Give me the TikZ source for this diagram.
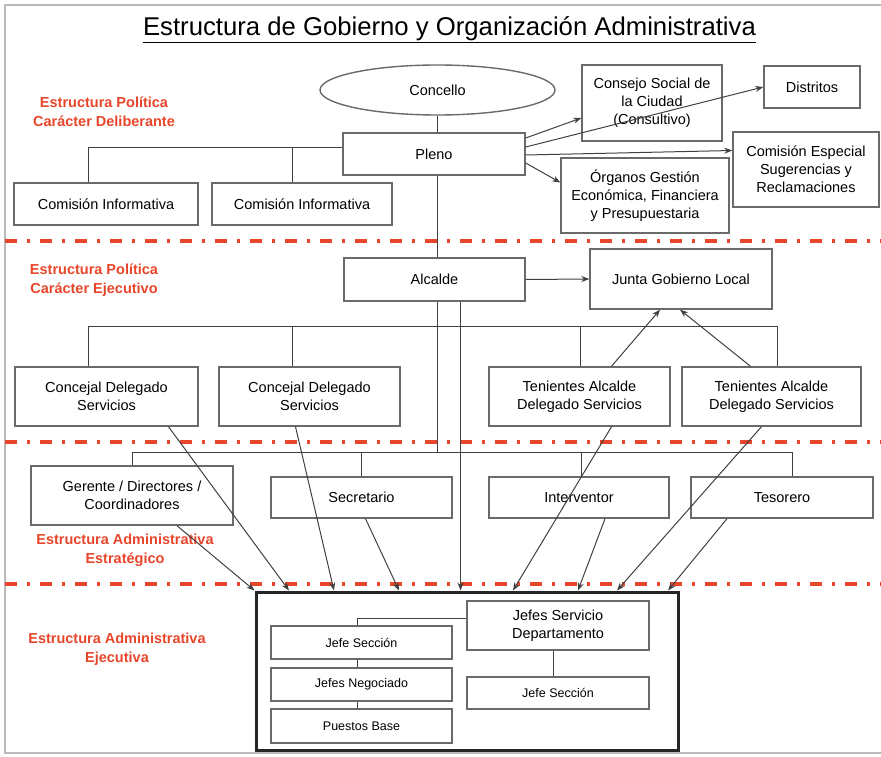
\documentclass[tikz,border=0pt]{standalone}
\usepackage{fontspec}
\setmainfont{Liberation Sans}
\usetikzlibrary{arrows.meta,shapes.geometric}
\definecolor{rojo}{HTML}{E8462A}
\definecolor{gris}{HTML}{6A6A6A}
\begin{document}
\begin{tikzpicture}[x=1pt,y=-1pt,
  caja/.style={draw=gris, line width=1.4pt, fill=white, align=center, inner sep=2pt, font=\fontsize{14.5}{18}\selectfont},
  cajita/.style={caja, line width=1.2pt, font=\fontsize{12.5}{15}\selectfont},
  etiq/.style={text=rojo, align=center, font=\bfseries\fontsize{14.5}{19}\selectfont},
  corte/.style={draw=rojo, line width=4pt, dash pattern=on 12pt off 10pt on 3pt off 10pt},
  linea/.style={draw=black!75, line width=1pt},
  flecha/.style={linea, -{Stealth[length=8pt,width=6pt]}}]
\useasboundingbox (0,0) rectangle (881,757);

% marco y titulo
\draw[gray!55, line width=2pt] (5,5) rectangle (888,753);
\node[font=\fontsize{25.7}{30}\selectfont] (titulo) at (449.5,30) {\underline{Estructura de Gobierno y Organización Administrativa}};

% lineas de corte
\draw[corte] (5,241) -- (881,241);
\draw[corte] (5,442) -- (881,442);
\draw[corte] (5,584) -- (881,584);

% etiquetas de nivel
\node[etiq] (nivel1) at (104,112) {Estructura Política\\Carácter Deliberante};
\node[etiq] (nivel2) at (94,280) {Estructura Política\\Carácter Ejecutivo};
\node[etiq] (nivel3) at (125,550) {Estructura Administrativa\\Estratégico};
\node[etiq] (nivel4) at (117,649) {Estructura Administrativa\\Ejecutiva};

% estructura politica deliberante
\node[draw=gris, line width=1.4pt, fill=white, ellipse, minimum width=235pt, minimum height=50pt, font=\fontsize{14.5}{18}\selectfont] (concello) at (437.5,90) {Concello};
\node[caja, minimum width=140pt, minimum height=76pt] (cons) at (652,103) {Consejo Social de\\la Ciudad\\(Consultivo)};
\node[caja, minimum width=96pt, minimum height=42pt] (dis) at (812,87) {Distritos};
\node[caja, minimum width=182pt, minimum height=42pt] (pleno) at (434,154) {Pleno};
\node[caja, minimum width=146pt, minimum height=75pt] (esp) at (806,169.5) {Comisión Especial\\Sugerencias y\\Reclamaciones};
\node[caja, minimum width=168pt, minimum height=75pt] (org) at (645,195.5) {Órganos Gestión\\Económica, Financiera\\y Presupuestaria};
\node[caja, minimum width=184pt, minimum height=42pt] (ci1) at (106,204) {Comisión Informativa};
\node[caja, minimum width=180pt, minimum height=42pt] (ci2) at (302,204) {Comisión Informativa};

% estructura politica ejecutiva
\node[caja, minimum width=181pt, minimum height=43pt] (alc) at (434.5,279.5) {Alcalde};
\node[caja, minimum width=182pt, minimum height=60pt] (junta) at (681,279) {Junta Gobierno Local};
\node[caja, minimum width=183pt, minimum height=59pt] (cd1) at (106.5,396.5) {Concejal Delegado\\Servicios};
\node[caja, minimum width=181pt, minimum height=59pt] (cd2) at (309.5,396.5) {Concejal Delegado\\Servicios};
\node[caja, minimum width=181pt, minimum height=59pt] (td1) at (579.5,396.5) {Tenientes Alcalde\\Delegado Servicios};
\node[caja, minimum width=179pt, minimum height=59pt] (td2) at (771.5,396.5) {Tenientes Alcalde\\Delegado Servicios};

% estructura administrativa estrategica
\node[caja, minimum width=202pt, minimum height=59pt] (ger) at (132,495.5) {Gerente / Directores /\\Coordinadores};
\node[caja, minimum width=181pt, minimum height=41pt] (sec) at (361.5,497.5) {Secretario};
\node[caja, minimum width=180pt, minimum height=41pt] (int) at (579,497.5) {Interventor};
\node[caja, minimum width=182pt, minimum height=41pt] (tes) at (782,497.5) {Tesorero};

% estructura administrativa ejecutiva
\node[draw=black!85, line width=3pt, fill=white, minimum width=422pt, minimum height=158pt] (big) at (467,671) {};
\node[caja, line width=1.2pt, minimum width=182pt, minimum height=49pt] (jserv) at (558,625.5) {Jefes Servicio\\Departamento};
\node[cajita, minimum width=181pt, minimum height=33pt] (js1) at (361.5,642.5) {Jefe Sección};
\node[cajita, minimum width=181pt, minimum height=33pt] (neg) at (361.5,684.5) {Jefes Negociado};
\node[cajita, minimum width=181pt, minimum height=34pt] (pb) at (361.5,726) {Puestos Base};
\node[cajita, minimum width=182pt, minimum height=32pt] (js2) at (558,693) {Jefe Sección};

% coordenadas de los buses
\coordinate (pl) at ([yshift=6pt]pleno.west);
\coordinate (b1) at (0,326);
\coordinate (b2) at (0,452);

% lineas de dependencia
\draw[linea] (concello.south) -- (concello.south |- pleno.north);
\draw[linea] (concello.south |- pleno.south) -- (concello.south |- alc.north);
\draw[linea] (concello.south |- alc.south) -- (concello.south |- b2);
\draw[linea] (pl) -| ([xshift=-18pt]ci1.north);
\draw[linea] ([xshift=-10pt]ci2.north) -- ([xshift=-10pt]ci2.north |- pl);
\draw[linea] ([xshift=-18pt]cd1.north) |- ([xshift=6pt]td2.north |- b1);
\draw[linea] ([xshift=-17pt]cd2.north) -- ([xshift=-17pt]cd2.north |- b1);
\draw[linea] ([xshift=1pt]td1.north) -- ([xshift=1pt]td1.north |- b1);
\draw[linea] ([xshift=6pt]td2.north) -- ([xshift=6pt]td2.north |- b1);
\draw[linea] (ger.north) |- ([xshift=10pt]tes.north |- b2);
\draw[linea] (sec.north) -- (sec.north |- b2);
\draw[linea] ([xshift=2pt]int.north) -- ([xshift=2pt]int.north |- b2);
\draw[linea] ([xshift=10pt]tes.north) -- ([xshift=10pt]tes.north |- b2);
\draw[linea] ([yshift=7pt]jserv.west) -| ([xshift=-4pt]js1.north);
\draw[linea] ([xshift=-4pt]js1.south) -- ([xshift=-4pt]neg.north);
\draw[linea] ([xshift=-4pt]neg.south) -- ([xshift=-4pt]pb.north);
\draw[linea] ([xshift=-5pt]jserv.south) -- ([xshift=-5pt]js2.north);

% flechas del pleno y del alcalde
\draw[flecha] ([yshift=16pt]pleno.east) -- ([yshift=-15pt]cons.west);
\draw[flecha] ([yshift=7pt]pleno.east) -- (dis.west);
\draw[flecha] ([yshift=-1pt]pleno.east) -- ([yshift=19pt]esp.west);
\draw[flecha] ([yshift=-9pt]pleno.east) -- ([yshift=13pt]org.west);
\draw[flecha] (alc.east) -- (junta.west);
\draw[flecha] ([xshift=32pt]td1.north) -- ([xshift=-21pt]junta.south);
\draw[flecha] ([xshift=-21pt]td2.north) -- ([xshift=-1pt]junta.south);

% flechas hacia la estructura ejecutiva
\draw[flecha] ([xshift=26pt]alc.south) -- ([xshift=26pt]alc.south |- big.north);
\draw[flecha] ([xshift=45pt]ger.south) -- (big.north west);
\draw[flecha] ([xshift=62pt]cd1.south) -- ([xshift=-178pt]big.north);
\draw[flecha] ([xshift=-14pt]cd2.south) -- ([xshift=-133pt]big.north);
\draw[flecha] ([xshift=4pt]sec.south) -- ([xshift=-68pt]big.north);
\draw[flecha] ([xshift=32pt]td1.south) -- ([xshift=46pt]big.north);
\draw[flecha] ([xshift=26pt]int.south) -- ([xshift=111pt]big.north);
\draw[flecha] ([xshift=-10pt]td2.south) -- ([xshift=150pt]big.north);
\draw[flecha] ([xshift=-55pt]tes.south) -- ([xshift=201pt]big.north);
\end{tikzpicture}
\end{document}
